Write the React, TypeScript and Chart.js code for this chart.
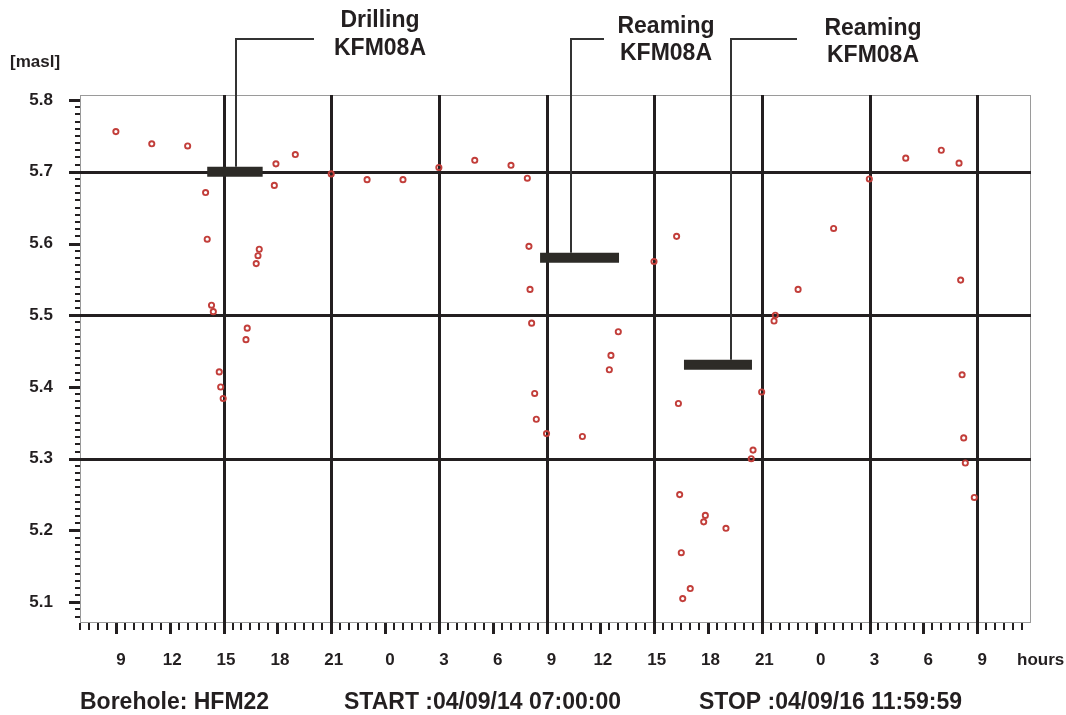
import React, { useEffect, useRef } from "react";
import { Chart, registerables } from "chart.js";

Chart.register(...registerables);

// Time axis: hours after START (04/09/14 07:00:00)
const X_MIN = 0;
const X_MAX = 53;
const Y_MIN = 5.071;
const Y_MAX = 5.807;

const hours = [
  2.0, 4.0, 6.0, 7.0, 7.09, 7.33, 7.43, 7.76, 7.84, 7.98,
  9.25, 9.32, 9.82, 9.92, 9.99, 10.83, 10.92, 12.0, 14.0, 16.0,
  18.0, 20.0, 22.0, 24.02, 24.93, 25.02, 25.08, 25.17, 25.34, 25.43,
  26.0, 28.0, 29.5, 29.59, 30.0, 31.99, 33.25, 33.35, 33.42, 33.51,
  33.59, 34.01, 34.76, 34.85, 36.0, 37.41, 37.51, 37.99, 38.68, 38.75,
  40.02, 42.0, 43.99, 46.02, 48.0, 48.99, 49.08, 49.16, 49.25, 49.34,
  49.84,
];
const levels = [
  5.756, 5.739, 5.736, 5.671, 5.606, 5.514, 5.505, 5.421, 5.4, 5.384,
  5.466, 5.482, 5.572, 5.583, 5.592, 5.681, 5.711, 5.724, 5.697, 5.689,
  5.689, 5.706, 5.716, 5.709, 5.691, 5.596, 5.536, 5.489, 5.391, 5.355,
  5.335, 5.331, 5.424, 5.444, 5.477, 5.575, 5.61, 5.377, 5.25, 5.169,
  5.105, 5.119, 5.212, 5.221, 5.203, 5.3, 5.312, 5.393, 5.492, 5.5,
  5.536, 5.621, 5.69, 5.719, 5.73, 5.712, 5.549, 5.417, 5.329, 5.294,
  5.246,
];

// Activities in the neighbouring borehole
const activityName = ["Drilling", "Reaming", "Reaming"];
const activityHole = ["KFM08A", "KFM08A", "KFM08A"];
const activityStart = [7.09, 25.64, 33.66];
const activityEnd = [10.18, 30.04, 37.45];
const activityLevel = [5.7, 5.58, 5.431];
const activityLeaderHour = [8.69, 27.36, 36.3];

// Axis ticks
const xTickHours = [2, 5, 8, 11, 14, 17, 20, 23, 26, 29, 32, 35, 38, 41, 44, 47, 50];
const xTickLabels = ["9", "12", "15", "18", "21", "0", "3", "6", "9", "12", "15", "18", "21", "0", "3", "6", "9"];
const xGridHours = [8, 14, 20, 26, 32, 38, 44, 50];
const yTickValues = [5.1, 5.2, 5.3, 5.4, 5.5, 5.6, 5.7, 5.8];
const yTickLabels = ["5.1", "5.2", "5.3", "5.4", "5.5", "5.6", "5.7", "5.8"];
const yGridValues = [5.3, 5.5, 5.7];

const yUnit = "[masl]";
const xUnit = "hours";
const footer = ["Borehole: HFM22", "START :04/09/14 07:00:00", "STOP :04/09/16 11:59:59"];

const FONT = "'Liberation Sans', Arial, sans-serif";
const INK = "#231f20";

// layout-only constants (pixel offsets for annotations / footer)
const leaderArm = [78, 33, 66];
const leaderTextDx = [144, 95, 142];
const leaderTextBase = [[27, 55], [33, 60], [35, 62]];
const footerX = [80, 344, 699];

const framePlugin = {
  id: "frame",
  beforeDatasetsDraw(chart: any) {
    const { ctx, chartArea: a, scales } = chart;
    const xs = scales.x;
    const ys = scales.y;
    ctx.save();
    // plot border
    ctx.strokeStyle = "#9a9a9a";
    ctx.lineWidth = 1;
    ctx.strokeRect(a.left + 0.5, a.top + 0.5, a.right - a.left - 1, a.bottom - a.top - 1);

    ctx.strokeStyle = INK;
    ctx.lineCap = "butt";
    // x minor ticks every 30 min
    ctx.lineWidth = 2;
    for (let i = 0; i * 0.5 < X_MAX; i++) {
      const px = Math.round(xs.getPixelForValue(i * 0.5));
      ctx.beginPath();
      ctx.moveTo(px, a.bottom);
      ctx.lineTo(px, a.bottom + 7);
      ctx.stroke();
    }
    // x major ticks
    ctx.lineWidth = 3;
    xTickHours.forEach((h) => {
      const px = Math.round(xs.getPixelForValue(h)) + 0.5;
      ctx.beginPath();
      ctx.moveTo(px, a.bottom);
      ctx.lineTo(px, a.bottom + 11);
      ctx.stroke();
    });
    // x heavy grid
    xGridHours.forEach((h) => {
      const px = Math.round(xs.getPixelForValue(h)) + 0.5;
      ctx.beginPath();
      ctx.moveTo(px, a.top);
      ctx.lineTo(px, a.bottom + 11);
      ctx.stroke();
    });
    // y minor ticks every 0.01
    ctx.lineWidth = 2;
    for (let i = 508; i <= 580; i++) {
      const py = Math.round(ys.getPixelForValue(i / 100));
      ctx.beginPath();
      ctx.moveTo(a.left - 5, py);
      ctx.lineTo(a.left, py);
      ctx.stroke();
    }
    // y major ticks
    ctx.lineWidth = 3;
    yTickValues.forEach((v) => {
      const py = Math.round(ys.getPixelForValue(v)) + 0.5;
      ctx.beginPath();
      ctx.moveTo(a.left - 11, py);
      ctx.lineTo(a.left, py);
      ctx.stroke();
    });
    // y heavy grid
    yGridValues.forEach((v) => {
      const py = Math.round(ys.getPixelForValue(v)) + 0.5;
      ctx.beginPath();
      ctx.moveTo(a.left - 11, py);
      ctx.lineTo(a.right, py);
      ctx.stroke();
    });

    // tick labels
    ctx.fillStyle = INK;
    ctx.font = `bold 17px ${FONT}`;
    ctx.textBaseline = "middle";
    ctx.textAlign = "right";
    yTickValues.forEach((v, i) => {
      ctx.fillText(yTickLabels[i], a.left - 27, ys.getPixelForValue(v));
    });
    ctx.textAlign = "center";
    xTickHours.forEach((h, i) => {
      const lbl = xTickLabels[i];
      const dx = lbl.length === 1 ? 5 : 2.5;
      ctx.fillText(lbl, xs.getPixelForValue(h) + dx, a.bottom + 37);
    });
    ctx.textAlign = "left";
    ctx.fillText(xUnit, a.right - 14, a.bottom + 37);
    ctx.fillText(yUnit, 10, 62);
    ctx.restore();
  },
  afterDatasetsDraw(chart: any) {
    const { ctx, scales } = chart;
    const xs = scales.x;
    const ys = scales.y;
    ctx.save();
    // leader lines + activity labels
    ctx.strokeStyle = "#333";
    ctx.lineWidth = 2;
    ctx.fillStyle = INK;
    ctx.font = `bold 23px ${FONT}`;
    ctx.textAlign = "center";
    ctx.textBaseline = "alphabetic";
    activityName.forEach((name, i) => {
      const lx = Math.round(xs.getPixelForValue(activityLeaderHour[i]));
      const barTop = ys.getPixelForValue(activityLevel[i]) - 5;
      ctx.beginPath();
      ctx.moveTo(lx, barTop);
      ctx.lineTo(lx, 39);
      ctx.lineTo(lx + leaderArm[i], 39);
      ctx.stroke();
      const tx = lx + leaderTextDx[i];
      ctx.fillText(name, tx, leaderTextBase[i][0]);
      ctx.fillText(activityHole[i], tx, leaderTextBase[i][1]);
    });
    // footer
    ctx.textAlign = "left";
    footer.forEach((t, i) => ctx.fillText(t, footerX[i], 709));
    ctx.restore();
  },
};

export default function App() {
  const ref = useRef<HTMLCanvasElement | null>(null);
  useEffect(() => {
    document.body.style.margin = "0";
    const canvas = ref.current;
    if (!canvas) return;
    const points = hours.map((h, i) => ({ x: h, y: levels[i] }));
    const activitySets = activityName.map((n, i) => ({
      type: "line" as const,
      label: `${n} ${activityHole[i]}`,
      data: [
        { x: activityStart[i], y: activityLevel[i] },
        { x: activityEnd[i], y: activityLevel[i] },
      ],
      borderColor: "#2d2b27",
      borderWidth: 10,
      borderCapStyle: "butt" as const,
      pointRadius: 0,
      fill: false,
      order: 2,
    }));
    const chart = new Chart(canvas, {
      type: "scatter",
      data: {
        datasets: [
          ...activitySets,
          {
            type: "scatter" as const,
            label: "HFM22",
            data: points,
            pointStyle: "circle",
            pointRadius: 2.6,
            borderWidth: 1.9,
            borderColor: "#c23e3a",
            backgroundColor: "rgba(0,0,0,0)",
            order: 1,
          },
        ] as any,
      },
      options: {
        animation: false,
        responsive: false,
        devicePixelRatio: 1,
        layout: { padding: { left: 80, right: 35, top: 95, bottom: 92 } },
        plugins: { legend: { display: false }, tooltip: { enabled: false } },
        scales: {
          x: { type: "linear", min: X_MIN, max: X_MAX, display: false },
          y: { type: "linear", min: Y_MIN, max: Y_MAX, display: false },
        },
      },
      plugins: [framePlugin],
    });
    return () => chart.destroy();
  }, []);
  return (
    <div style={{ width: 1066, height: 715, background: "#fff" }}>
      <canvas ref={ref} width={1066} height={715} style={{ display: "block" }} />
    </div>
  );
}
